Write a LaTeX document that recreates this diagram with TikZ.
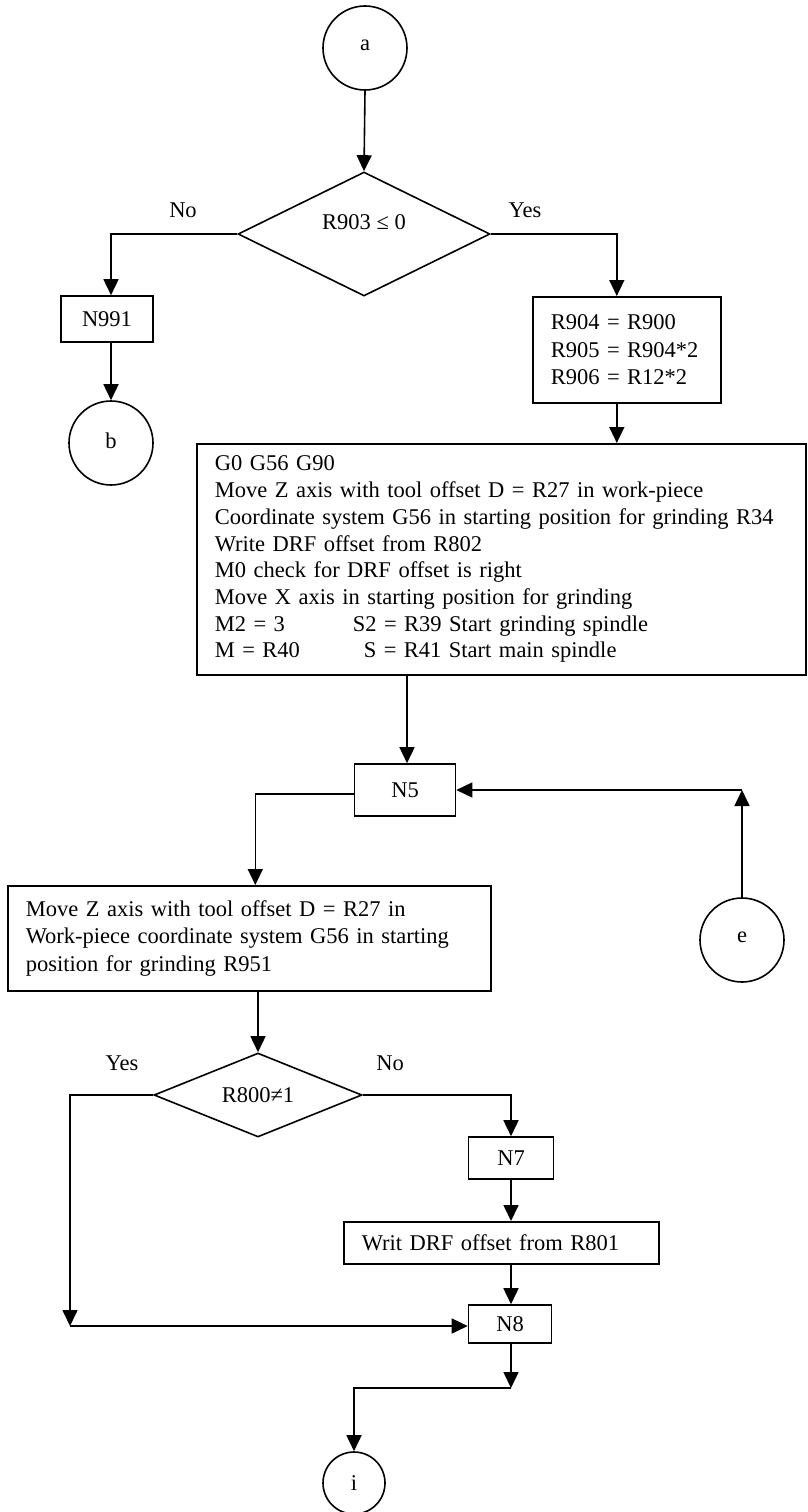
\documentclass[tikz,border=0pt]{standalone}
\usepackage{fontspec}
\setmainfont{Liberation Serif}
\usetikzlibrary{shapes.geometric,arrows.meta}
\begin{document}
\begin{tikzpicture}[x=1pt,y=-1pt,
  every node/.style={font=\fontsize{22.5}{26.7}\selectfont},
  proc/.style={draw,line width=1.6pt,inner xsep=18pt,inner ysep=0pt},
  txtbox/.style={proc,align=left},
  conn/.style={draw,circle,line width=1.6pt,inner sep=0pt},
  dec/.style={draw,diamond,line width=1.6pt,inner sep=0pt},
  lbl/.style={inner sep=0pt},
  arr/.style={line width=1.6pt,-{Triangle[length=16pt,width=15pt]}}
]
\useasboundingbox (0,0) rectangle (807,1512);

% connectors (off-page references)
\node[conn,minimum size=84pt] (a) at (365,48) {\raisebox{5pt}{a}};
\node[conn,minimum size=84pt] (b) at (111,443) {\raisebox{5pt}{b}};
\node[conn,minimum size=84pt] (e) at (742,940) {\raisebox{5pt}{e}};
\node[conn,minimum size=62pt] (i) at (354,1483) {i};

% decisions
\node[dec,minimum width=252pt,minimum height=124pt,
      label={[lbl,yshift=12pt]center:R903 ≤ 0}] (d1) at (364,234) {};
\node[dec,minimum width=208pt,minimum height=84pt,
      label={[lbl]center:R800≠1}] (d2) at (258,1095) {};

% branch labels
\node[lbl] (no1)  at (183,210)  {No};
\node[lbl] (yes1) at (525,210)  {Yes};
\node[lbl] (yes2) at (122,1063) {Yes};
\node[lbl] (no2)  at (390,1063) {No};

% process boxes
\node[proc,minimum width=92pt,minimum height=46pt] (n991) at (107,319) {N991};
\node[txtbox,anchor=north west,minimum width=188pt,minimum height=106pt,
      text width=152pt,font=\fontsize{22.5}{27.5}\selectfont] (r904) at (532,296)
  {R904 = R900\\R905 = R904*2\\R906 = R12*2};
\node[txtbox,anchor=north west,minimum width=609pt,minimum height=231pt,
      text width=573pt] (big) at (196,443)
  {G0 G56 G90\\
   Move Z axis with tool offset D = R27 in work-piece\\
   Coordinate system G56 in starting position for grinding R34\\
   Write DRF offset from R802\\
   M0 check for DRF offset is right\\
   Move X axis in starting position for grinding\\
   \makebox[138pt][l]{M2 = 3}S2 = R39 Start grinding spindle\\
   \makebox[149pt][l]{M = R40}S = R41 Start main spindle};
\node[proc,minimum width=101pt,minimum height=52pt] (n5) at (405,790) {N5};
\node[txtbox,anchor=north west,minimum width=483pt,minimum height=105pt,
      text width=447pt,font=\fontsize{22.5}{27.5}\selectfont] (box2) at (7,885)
  {Move Z axis with tool offset D = R27 in\\
   Work-piece coordinate system G56 in starting\\
   position for grinding R951};
\node[proc,minimum width=85pt,minimum height=42pt] (n7) at (511,1158) {N7};
\node[txtbox,anchor=north west,minimum width=315pt,minimum height=42pt,
      text width=279pt] (writ) at (343,1221) {Writ DRF offset from R801};
\node[proc,minimum width=83pt,minimum height=38pt] (n8) at (510,1324) {N8};

% helper points
\coordinate (ecorner) at (e.north |- n5.east);
\coordinate (ycorner) at (70,1326);
\coordinate (join) at (511,1388);

% flow lines
\draw[arr] (a.south) -- (d1.north);
\draw[arr] (d1.west) -| ([xshift=4pt]n991.north);
\draw[arr] ([xshift=4pt]n991.south) -- ([xshift=4pt]n991.south |- b.north);
\draw[arr] (d1.east) -| ([xshift=-10pt]r904.north);
\draw[arr] ([xshift=-10pt]r904.south) -- ([xshift=-10pt]r904.south |- big.north);
\draw[arr] ([xshift=2pt]n5.north |- big.south) -- ([xshift=2pt]n5.north);
\draw[arr] ([yshift=-4pt]n5.west) -| ([xshift=6pt]box2.north);
\draw[arr] (e.north) -- (ecorner);
\draw[arr] (ecorner) -- (ecorner -| n5.east);
\draw[arr] (d2.north |- box2.south) -- (d2.north);
\draw[arr] (d2.west) -| (ycorner);
\draw[arr] (ycorner) -- (ycorner -| n8.west);
\draw[arr] (d2.east) -| (n7.north);
\draw[arr] (n7.south) -- (n7.south |- writ.north);
\draw[arr] ([xshift=1pt]n8.north |- writ.south) -- ([xshift=1pt]n8.north);
\draw[arr] ([xshift=1pt]n8.south) -- (join);
\draw[arr] (join) -| (i.north);
\end{tikzpicture}
\end{document}
